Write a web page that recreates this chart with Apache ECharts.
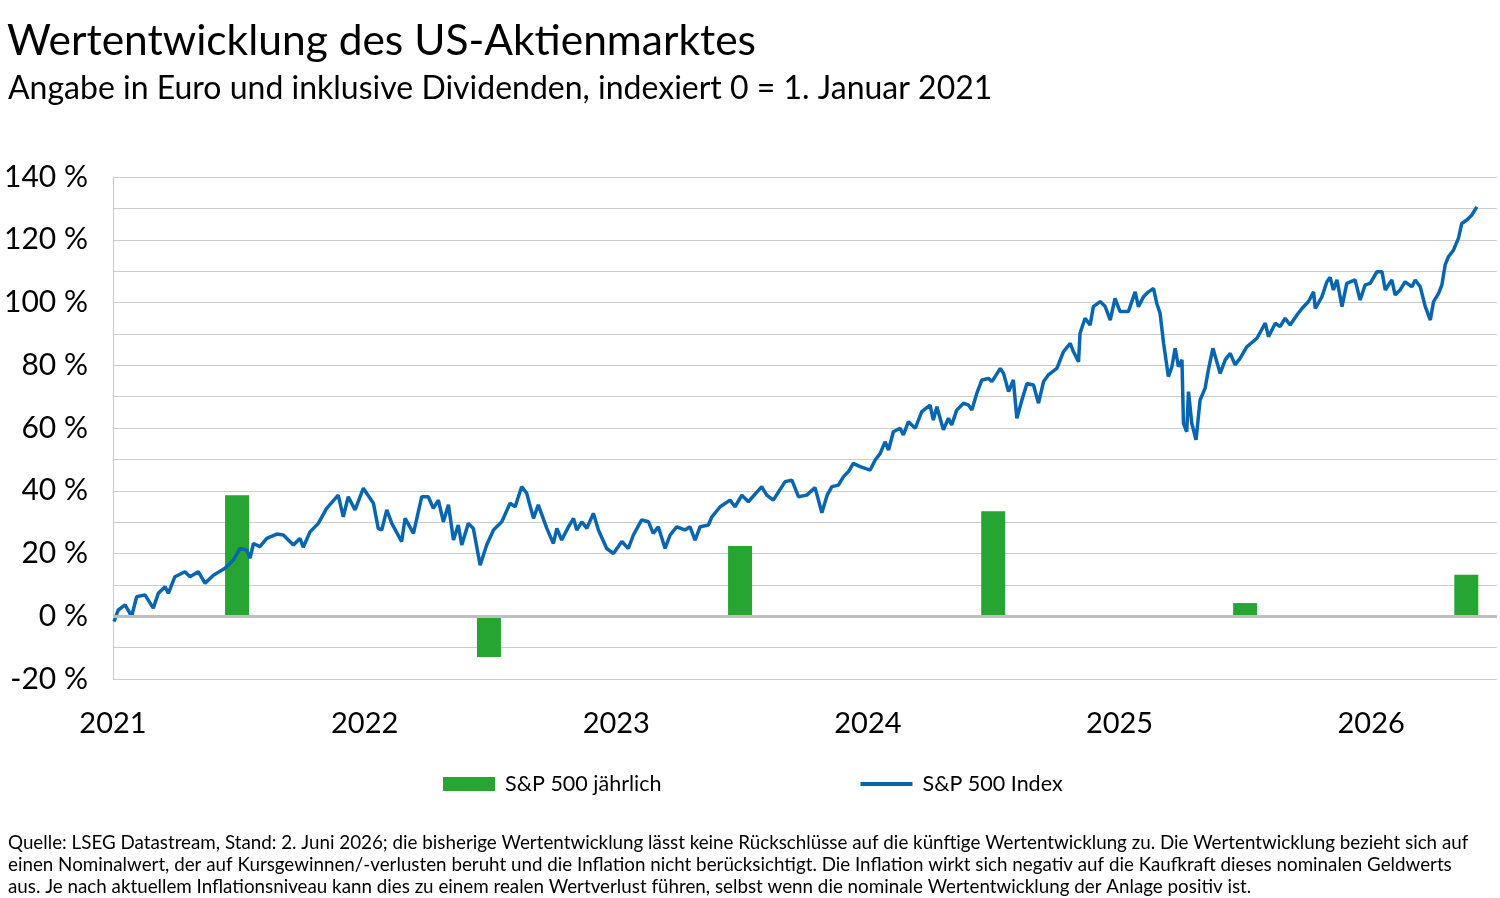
<!DOCTYPE html>
<html>
<head>
<meta charset="utf-8">
<title>Wertentwicklung des US-Aktienmarktes</title>
<script src="https://cdn.jsdelivr.net/npm/echarts/dist/echarts.min.js"></script>
<style>
  html, body { margin: 0; padding: 0; background: #fff; }
  #chart { width: 1500px; height: 898px; }
</style>
</head>
<body>
<div id="chart"></div>
<script>
// Jahresperformance (Balken), Position = Jahresmitte als Dezimaljahr
var barYears = [2021.493, 2022.494, 2023.492, 2024.498, 2025.499, 2026.378];
var barValues = [38.6, -13.0, 22.4, 33.5, 4.2, 13.2];

// S&P 500 Index, Zeitpunkte als Dezimaljahr
var indexYears = [
  2021.004, 2021.021, 2021.048, 2021.074, 2021.094, 2021.127, 2021.160, 2021.180, 2021.207, 2021.220,
  2021.246, 2021.286, 2021.306, 2021.339, 2021.366, 2021.399, 2021.445, 2021.478, 2021.505, 2021.531,
  2021.545, 2021.558, 2021.584, 2021.611, 2021.651, 2021.677, 2021.717, 2021.743, 2021.756, 2021.783,
  2021.816, 2021.849, 2021.895, 2021.915, 2021.935, 2021.962, 2021.995, 2022.008, 2022.035, 2022.054,
  2022.068, 2022.088, 2022.108, 2022.147, 2022.161, 2022.194, 2022.227, 2022.253, 2022.273, 2022.293,
  2022.313, 2022.333, 2022.353, 2022.372, 2022.386, 2022.412, 2022.432, 2022.459, 2022.485, 2022.512,
  2022.545, 2022.578, 2022.598, 2022.624, 2022.644, 2022.671, 2022.690, 2022.724, 2022.750, 2022.764,
  2022.783, 2022.810, 2022.830, 2022.843, 2022.863, 2022.883, 2022.909, 2022.929, 2022.962, 2022.989,
  2023.022, 2023.048, 2023.068, 2023.101, 2023.128, 2023.147, 2023.167, 2023.194, 2023.214, 2023.240,
  2023.273, 2023.293, 2023.313, 2023.333, 2023.366, 2023.380, 2023.413, 2023.452, 2023.472, 2023.499,
  2023.525, 2023.578, 2023.598, 2023.624, 2023.671, 2023.698, 2023.724, 2023.757, 2023.790, 2023.817,
  2023.838, 2023.857, 2023.883, 2023.903, 2023.923, 2023.942, 2023.969, 2024.009, 2024.029, 2024.049,
  2024.068, 2024.082, 2024.101, 2024.128, 2024.141, 2024.161, 2024.188, 2024.214, 2024.247, 2024.260,
  2024.274, 2024.300, 2024.320, 2024.333, 2024.353, 2024.380, 2024.400, 2024.413, 2024.433, 2024.453,
  2024.479, 2024.493, 2024.526, 2024.539, 2024.559, 2024.578, 2024.592, 2024.612, 2024.632, 2024.658,
  2024.678, 2024.698, 2024.717, 2024.751, 2024.777, 2024.804, 2024.817, 2024.837, 2024.843, 2024.863,
  2024.883, 2024.896, 2024.923, 2024.943, 2024.963, 2024.982, 2025.002, 2025.035, 2025.062, 2025.075,
  2025.095, 2025.115, 2025.135, 2025.148, 2025.161, 2025.175, 2025.194, 2025.208, 2025.221, 2025.234,
  2025.248, 2025.254, 2025.267, 2025.274, 2025.287, 2025.304, 2025.320, 2025.340, 2025.353, 2025.371,
  2025.400, 2025.420, 2025.440, 2025.459, 2025.479, 2025.506, 2025.546, 2025.579, 2025.592, 2025.619,
  2025.638, 2025.658, 2025.678, 2025.705, 2025.725, 2025.751, 2025.771, 2025.778, 2025.804, 2025.824,
  2025.837, 2025.850, 2025.864, 2025.884, 2025.903, 2025.936, 2025.956, 2025.976, 2025.996, 2026.023,
  2026.043, 2026.056, 2026.082, 2026.095, 2026.115, 2026.135, 2026.162, 2026.175, 2026.195, 2026.215,
  2026.235, 2026.248, 2026.268, 2026.281, 2026.294, 2026.307, 2026.327, 2026.347, 2026.360, 2026.380,
  2026.400, 2026.420
];
var indexValues = [
  -1.7, 2.0, 3.6, 0.0, 6.2, 6.8, 2.6, 7.3, 9.4, 7.3,
  12.6, 14.2, 12.6, 14.2, 10.5, 13.1, 15.3, 17.9, 21.6, 21.1,
  18.5, 23.2, 22.2, 24.8, 26.2, 25.9, 22.7, 24.8, 22.0, 26.9,
  29.6, 34.4, 38.6, 31.7, 38.1, 33.9, 40.8, 39.2, 36.0, 28.0,
  27.5, 33.9, 29.6, 23.8, 31.2, 26.4, 38.1, 38.1, 34.4, 37.0,
  30.1, 35.5, 24.3, 29.1, 22.7, 29.6, 28.0, 16.3, 22.7, 27.5,
  30.1, 36.0, 34.9, 41.3, 39.2, 31.2, 35.5, 28.0, 23.2, 28.0,
  24.3, 28.5, 31.2, 27.5, 30.1, 28.0, 32.8, 27.5, 21.6, 20.0,
  23.8, 21.6, 25.9, 30.7, 30.1, 26.4, 28.5, 21.6, 25.9, 28.5,
  27.5, 28.5, 24.3, 28.5, 29.1, 31.7, 34.9, 37.0, 34.9, 38.6,
  36.5, 41.3, 38.6, 37.0, 42.9, 43.4, 38.1, 38.6, 41.0, 33.0,
  38.6, 41.3, 41.8, 44.5, 46.1, 48.7, 47.7, 46.6, 49.8, 51.9,
  55.6, 53.0, 58.8, 59.9, 57.8, 62.0, 59.9, 65.2, 67.3, 62.5,
  66.8, 59.4, 63.1, 61.0, 65.7, 67.9, 67.3, 65.7, 71.1, 75.3,
  75.8, 74.8, 79.0, 77.4, 71.6, 75.3, 63.1, 68.9, 74.2, 73.7,
  67.9, 74.8, 76.9, 79.0, 84.3, 87.0, 84.3, 81.1, 90.2, 95.0,
  92.8, 98.7, 100.3, 98.7, 94.4, 101.3, 97.1, 97.1, 103.4, 98.7,
  101.8, 103.4, 104.5, 99.7, 96.6, 87.0, 76.4, 79.5, 85.4, 79.5,
  81.7, 61.5, 58.8, 71.6, 61.5, 56.2, 68.9, 72.7, 78.5, 85.4,
  77.4, 81.7, 83.8, 80.1, 82.2, 85.9, 88.6, 93.4, 89.1, 93.4,
  92.3, 95.0, 92.8, 96.0, 98.1, 100.3, 103.4, 98.1, 101.8, 106.6,
  108.0, 104.0, 107.2, 98.7, 106.1, 107.2, 100.8, 105.6, 106.1, 109.8,
  109.8, 104.0, 107.2, 102.4, 104.0, 106.6, 105.0, 107.2, 105.0, 98.7,
  94.4, 100.3, 102.9, 105.6, 112.0, 114.6, 116.7, 120.5, 125.2, 126.3,
  127.9, 130.5
];

var yearTicks = [2021, 2022, 2023, 2024, 2025, 2026];

var barData = barYears.map(function (y, i) { return [y, barValues[i]]; });
var lineData = indexYears.map(function (y, i) { return [y, indexValues[i]]; });

var FONT = 'Lato, "Noto Sans", sans-serif';
var chart = echarts.init(document.getElementById('chart'), null, { renderer: 'canvas' });

var option = {
  backgroundColor: '#ffffff',
  animation: false,
  textStyle: { fontFamily: FONT, color: '#000' },
  title: [
    {
      text: 'Wertentwicklung des US-Aktienmarktes',
      left: 2, top: 15,
      textStyle: { fontFamily: FONT, fontSize: 42.5, fontWeight: 'normal', color: '#000' }
    },
    {
      text: 'Angabe in Euro und inklusive Dividenden, indexiert 0 = 1. Januar 2021',
      left: 3, top: 68,
      textStyle: { fontFamily: FONT, fontSize: 32, fontWeight: 'normal', color: '#000' }
    },
    {
      text: 'Quelle: LSEG Datastream, Stand: 2. Juni 2026; die bisherige Wertentwicklung lässt keine Rückschlüsse auf die künftige Wertentwicklung zu. Die Wertentwicklung bezieht sich auf\n' +
            'einen Nominalwert, der auf Kursgewinnen/-verlusten beruht und die Inflation nicht berücksichtigt. Die Inflation wirkt sich negativ auf die Kaufkraft dieses nominalen Geldwerts\n' +
            'aus. Je nach aktuellem Inflationsniveau kann dies zu einem realen Wertverlust führen, selbst wenn die nominale Wertentwicklung der Anlage positiv ist.',
      left: 3, top: 827,
      textStyle: { fontFamily: FONT, fontSize: 18.8, fontWeight: 'normal', color: '#000', lineHeight: 22 }
    }
  ],
  legend: {
    left: 438, top: 768,
    itemWidth: 52, itemHeight: 14, itemGap: 197,
    textStyle: { fontFamily: FONT, fontSize: 21.5, color: '#000', padding: [0, 0, 0, 5] },
    data: [
      { name: 'S&P 500 jährlich', icon: 'rect' },
      { name: 'S&P 500 Index', itemStyle: { opacity: 0 }, lineStyle: { width: 4 } }
    ]
  },
  grid: { left: 113, right: 3, top: 177, bottom: 219, containLabel: false },
  xAxis: {
    type: 'value',
    min: 2021, max: 2026.5, interval: 1,
    axisLine: { show: false },
    axisTick: { show: false },
    splitLine: { show: false },
    axisLabel: {
      fontFamily: FONT, fontSize: 29, color: '#000', margin: 30,
      showMaxLabel: false,
      formatter: function (v) { return yearTicks.indexOf(v) >= 0 ? String(v) : ''; }
    }
  },
  yAxis: {
    type: 'value',
    min: -20, max: 140, interval: 10,
    axisLine: { show: true, lineStyle: { color: '#c8c8c8', width: 1 } },
    axisTick: { show: false },
    splitLine: { show: true, lineStyle: { color: '#cccccc', width: 1 } },
    axisLabel: {
      fontFamily: FONT, fontSize: 30, color: '#000', margin: 25,
      formatter: function (v) { return v % 20 === 0 ? v + ' %' : ''; }
    }
  },
  series: [
    {
      name: 'S&P 500 jährlich',
      type: 'bar',
      data: barData,
      barWidth: 24,
      itemStyle: { color: '#27a532' },
      markLine: {
        silent: true,
        symbol: 'none',
        label: { show: false },
        lineStyle: { color: '#bfbfbf', width: 3, type: 'solid' },
        data: [{ yAxis: 0 }]
      },
      z: 2
    },
    {
      name: 'S&P 500 Index',
      type: 'line',
      data: lineData,
      showSymbol: false,
      symbol: 'none',
      lineStyle: { color: '#0866b0', width: 3.5 },
      itemStyle: { color: '#0866b0' },
      z: 3
    }
  ]
};

chart.setOption(option);
</script>
</body>
</html>
